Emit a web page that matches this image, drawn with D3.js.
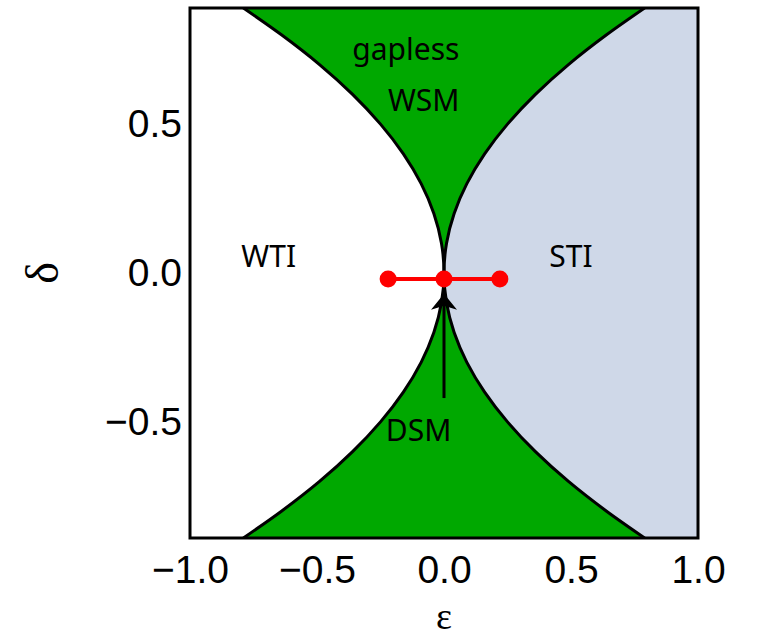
<!DOCTYPE html>
<html>
<head>
<meta charset="utf-8">
<script src="https://cdn.jsdelivr.net/npm/d3@7/dist/d3.min.js"></script>
<style>
  body { margin: 0; background: #fff; }
  text { fill: #000; }
</style>
</head>
<body>
<script>
// phase boundary: |eps| at a given delta (upper half, mirrored below)
const deltaVals = [0, 0.1, 0.2, 0.3, 0.4, 0.5, 0.6, 0.7, 0.8, 0.89];
const epsBoundary = [0, 0.01, 0.04, 0.09, 0.16, 0.25, 0.36, 0.49, 0.64, 0.79];

// red cut through the cusp
const cutEps = [-0.22, 0, 0.22];
const cutDelta = -0.02;

// arrow pointing at the cusp (delta from -> to)
const arrowDelta = [-0.42, -0.07];

const xTicks = [-1.0, -0.5, 0.0, 0.5, 1.0];
const yTicks = [-0.5, 0.0, 0.5];

const regionLabels = [
    { text: "gapless", eps: -0.15, delta: 0.715 },
    { text: "WSM", eps: -0.08, delta: 0.545 },
    { text: "WTI", eps: -0.69, delta: 0.02 },
    { text: "STI", eps: 0.50, delta: 0.02 },
    { text: "DSM", eps: -0.10, delta: -0.565 }
];

const W = 757, H = 640;
const margin = { top: 8, right: 59, bottom: 102, left: 190 };

const x = d3.scaleLinear().domain([-1, 1]).range([margin.left, W - margin.right]);
const y = d3.scaleLinear().domain([-0.89, 0.89]).range([H - margin.bottom, margin.top]);

// full boundary from bottom to top
const boundary = deltaVals.slice(1).reverse().map((d, i) => ({ d: -d, e: epsBoundary[deltaVals.length - 1 - i] }))
    .concat(deltaVals.map((d, i) => ({ d: d, e: epsBoundary[i] })));

const svg = d3.select("body").append("svg")
    .attr("width", W)
    .attr("height", H);

svg.append("defs").append("clipPath").attr("id", "clip")
  .append("rect")
    .attr("x", x(-1)).attr("y", y(0.89))
    .attr("width", x(1) - x(-1)).attr("height", y(-0.89) - y(0.89));

const plot = svg.append("g").attr("clip-path", "url(#clip)");

// green semimetal wedge underneath
plot.append("rect")
    .attr("x", x(-1)).attr("y", y(0.89))
    .attr("width", x(1) - x(-1)).attr("height", y(-0.89) - y(0.89))
    .attr("fill", "#00a800");

const curve = d3.curveMonotoneY;

// WTI (left)
plot.append("path")
    .datum(boundary)
    .attr("fill", "#ffffff")
    .attr("d", d3.area().curve(curve)
        .y(d => y(d.d))
        .x0(x(-1))
        .x1(d => x(-d.e)));

// STI (right)
plot.append("path")
    .datum(boundary)
    .attr("fill", "#cfd8e8")
    .attr("d", d3.area().curve(curve)
        .y(d => y(d.d))
        .x0(d => x(d.e))
        .x1(x(1)));

// boundaries
const line = d3.line().curve(curve);
plot.append("path")
    .attr("fill", "none").attr("stroke", "#000").attr("stroke-width", 3)
    .attr("d", line(boundary.map(d => [x(-d.e), y(d.d)])));
plot.append("path")
    .attr("fill", "none").attr("stroke", "#000").attr("stroke-width", 3)
    .attr("d", line(boundary.map(d => [x(d.e), y(d.d)])));

// arrow
svg.append("line")
    .attr("x1", x(0)).attr("x2", x(0))
    .attr("y1", y(arrowDelta[0])).attr("y2", y(arrowDelta[1]) + 10)
    .attr("stroke", "#000").attr("stroke-width", 3);
const tipY = y(arrowDelta[1]);
svg.append("path")
    .attr("d", `M${x(0)},${tipY} L${x(0) - 13},${tipY + 16} L${x(0)},${tipY + 12} L${x(0) + 13},${tipY + 16} Z`)
    .attr("fill", "#000");

// red cut
svg.append("line")
    .attr("x1", x(cutEps[0])).attr("x2", x(cutEps[cutEps.length - 1]))
    .attr("y1", y(cutDelta)).attr("y2", y(cutDelta))
    .attr("stroke", "#ff0000").attr("stroke-width", 4);
svg.selectAll(".dot")
    .data(cutEps)
    .join("circle")
    .attr("class", "dot")
    .attr("cx", d => x(d))
    .attr("cy", y(cutDelta))
    .attr("r", 8.5)
    .attr("fill", "#ff0000");

// region labels
svg.selectAll(".region")
    .data(regionLabels)
    .join("text")
    .attr("class", "region")
    .attr("x", d => x(d.eps))
    .attr("y", d => y(d.delta))
    .attr("text-anchor", "middle")
    .style("font-family", "'Noto Sans', 'Open Sans', sans-serif")
    .style("font-size", "30px")
    .text(d => d.text);

// frame
svg.append("rect")
    .attr("x", x(-1)).attr("y", y(0.89))
    .attr("width", x(1) - x(-1)).attr("height", y(-0.89) - y(0.89))
    .attr("fill", "none").attr("stroke", "#000").attr("stroke-width", 3);

const fmt = d => (d < 0 ? "\u2212" : "") + Math.abs(d).toFixed(1);

// axes (labels only, no tick marks)
const xAxis = svg.append("g")
    .attr("transform", `translate(0, ${y(-0.89)})`)
    .call(d3.axisBottom(x).tickValues(xTicks).tickSize(0).tickPadding(17).tickFormat(fmt));
xAxis.select(".domain").remove();
xAxis.selectAll("text")
    .style("font-family", "'Liberation Sans', Arial, sans-serif")
    .style("font-size", "39px");

const yAxis = svg.append("g")
    .attr("transform", `translate(${x(-1)}, 0)`)
    .call(d3.axisLeft(y).tickValues(yTicks).tickSize(0).tickPadding(8).tickFormat(fmt));
yAxis.select(".domain").remove();
yAxis.selectAll("text")
    .style("font-family", "'Liberation Sans', Arial, sans-serif")
    .style("font-size", "39px");

// axis titles
svg.append("text")
    .attr("x", x(0))
    .attr("y", 629)
    .attr("text-anchor", "middle")
    .style("font-family", "'Liberation Serif', 'DejaVu Serif', serif")
    .style("font-size", "38px")
    .text("\u03b5");

svg.append("text")
    .attr("transform", `translate(58, ${y(0)}) rotate(-90)`)
    .attr("text-anchor", "middle")
    .style("font-family", "'Liberation Serif', 'DejaVu Serif', serif")
    .style("font-size", "46px")
    .text("\u03b4");
</script>
</body>
</html>
